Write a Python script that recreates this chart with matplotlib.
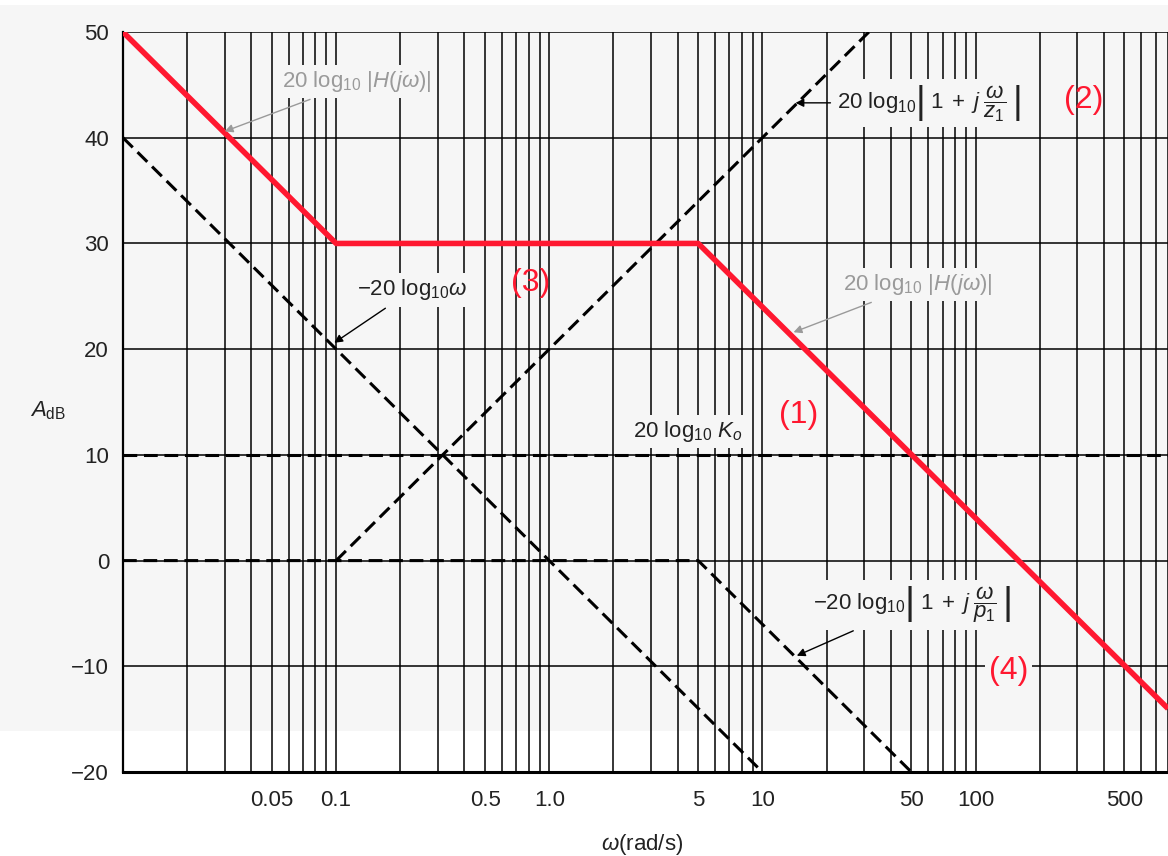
import numpy as np
import matplotlib
matplotlib.use("Agg")
import matplotlib.pyplot as plt
from matplotlib.patches import Rectangle

plt.rcParams['font.family'] = ['Liberation Sans', 'DejaVu Sans']
plt.rcParams['mathtext.fontset'] = 'custom'
plt.rcParams['mathtext.rm'] = 'Liberation Sans'
plt.rcParams['mathtext.it'] = 'Liberation Sans:italic'
plt.rcParams['mathtext.bf'] = 'Liberation Sans:bold'

# asymptote break points (rad/s, dB)
w_ko = [0.01, 800]
ko_db = [10, 10]
w_int = [0.01, 10]
int_db = [40, -20]
w_z1 = [0.1, 31.6]
z1_db = [0, 50]
w_p1 = [0.01, 5, 50]
p1_db = [0, 0, -20]
w_h = [0.01, 0.1, 5, 800]
h_db = [50, 30, 30, -14]

xticks = [0.05, 0.1, 0.5, 1.0, 5, 10, 50, 100, 500]
xtick_labels = ['0.05', '0.1', '0.5', '1.0', '5', '10', '50', '100', '500']
yticks = [50, 40, 30, 20, 10, 0, -10, -20]
ytick_labels = ['50', '40', '30', '20', '10', '0', '\u221210', '\u221220']

bg = '#f6f6f6'
red = '#ff1830'
ink = '#222222'
grey = '#9a9a9a'

fig = plt.figure(figsize=(11.68, 8.56), dpi=100)
fig.patches.append(Rectangle((0, 0.146), 1, 0.848, transform=fig.transFigure,
                             facecolor=bg, edgecolor='none', zorder=-10))
ax = fig.add_axes([0.1053, 0.0981, 0.8947, 0.8645])
ax.set_facecolor('none')
ax.set_xscale('log')
ax.set_xlim(0.01, 800)
ax.set_ylim(-20, 50)

# grid: every 1..9 x 10^k
minor = [m * 10.0 ** k for k in range(-2, 3) for m in range(1, 10)]
minor = [v for v in minor if 0.01 <= v <= 800]
ax.set_xticks(minor, minor=True)
ax.set_xticks(xticks, xtick_labels)
ax.set_yticks(yticks, ytick_labels)
ax.xaxis.set_minor_formatter(plt.NullFormatter())
ax.grid(True, which='both', axis='x', color='black', lw=1.1, zorder=1)
ax.grid(True, which='major', axis='y', color='black', lw=1.1, zorder=1)
ax.tick_params(which='both', length=0)
ax.tick_params(axis='x', pad=13, labelsize=16, labelcolor=ink)
ax.tick_params(axis='y', pad=10, labelsize=16, labelcolor=ink)
for s in ['top', 'right']:
    ax.spines[s].set_visible(False)
ax.spines['bottom'].set_linewidth(2.2)
ax.spines['left'].set_linewidth(1.6)

dash = (0, (4.5, 2.2))
for w, d in [(w_ko, ko_db), (w_int, int_db), (w_z1, z1_db), (w_p1, p1_db)]:
    ax.plot(w, d, color='black', lw=2.2, linestyle=dash, zorder=3)
ax.plot(w_h, h_db, color=red, lw=4.0, zorder=4, solid_capstyle='butt')

box = dict(facecolor=bg, edgecolor='none', pad=3)
fs = 16
arrow_k = dict(arrowstyle='-|>', color='black', lw=1, mutation_scale=12,
               shrinkA=2, shrinkB=0)
arrow_g = dict(arrow_k, color=grey)

# |H(jw)| labels (grey)
ax.annotate(r'20 log$_{10}$ $|H($$j\omega$$)|$', xy=(0.03, 40.6), xytext=(0.056, 45.3),
            color=grey, fontsize=fs, va='center', ha='left', bbox=box, zorder=5,
            arrowprops=arrow_g)
ax.annotate(r'20 log$_{10}$ $|H($$j\omega$$)|$', xy=(14, 21.6), xytext=(23.8, 26.1),
            color=grey, fontsize=fs, va='center', ha='left', bbox=box, zorder=5,
            arrowprops=arrow_g)

# component labels (black)
ax.annotate(r'20 log$_{10}\left|\;1\;+\;j\;\dfrac{\omega}{z_1}\;\right|$', xy=(14.3, 43.3),
            xytext=(22.5, 43.3), color=ink, fontsize=fs, va='center', ha='left',
            bbox=box, zorder=5, arrowprops=arrow_k)
ax.annotate(r'$-$20 log$_{10}$$\omega$', xy=(0.098, 20.6), xytext=(0.1256, 25.6),
            color=ink, fontsize=fs, va='center', ha='left', bbox=box, zorder=5,
            arrowprops=arrow_k)
ax.annotate(r'$-$20 log$_{10}\left|\;1\;+\;j\;\dfrac{\omega}{p_1}\;\right|$', xy=(14.5, -9.0),
            xytext=(17.2, -4.2), color=ink, fontsize=fs, va='center', ha='left',
            bbox=box, zorder=5, arrowprops=arrow_k)
ax.text(2.48, 12.2, r'20 log$_{10}$ $K_o$', color=ink, fontsize=fs, va='center',
        ha='left', bbox=box, zorder=5)

# red markers
for txt, x, y, boxed in [('(1)', 14.8, 13.8, True), ('(2)', 321, 43.6, False),
                         ('(3)', 0.815, 26.3, False), ('(4)', 143, -10.4, True)]:
    ax.text(x, y, txt, color=red, fontsize=23, ha='center', va='center',
            bbox=box if boxed else None, zorder=5)

fig.text(0.026, 0.52, r'$A_{\rm dB}$', fontsize=16, color=ink, ha='left', va='center')
fig.text(0.55, 0.014, r'$\omega$(rad/s)', fontsize=16, color=ink, ha='center',
         va='center')

fig.savefig('out.png', dpi=100, facecolor='white')
